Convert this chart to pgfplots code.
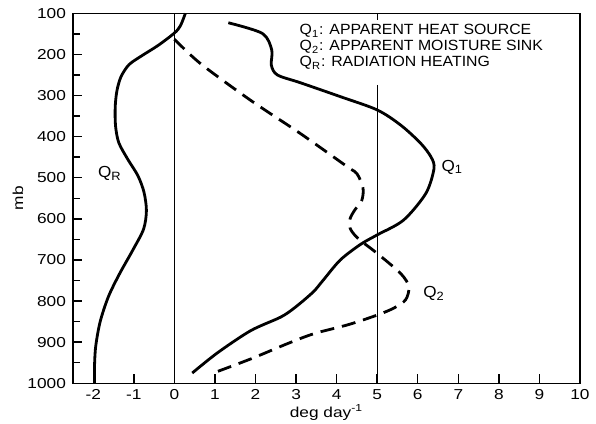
\documentclass[border=0pt]{standalone}
\usepackage{fontspec}
\setmainfont[FakeStretch=1.07]{Liberation Sans}
\newfontfamily\tickfont[FakeStretch=1.2]{Liberation Sans}
\usepackage{pgfplots}
\pgfplotsset{compat=1.18}
\begin{document}
\begin{tikzpicture}
\begin{axis}[
 at={(0,0)}, anchor=south west,
 scale only axis, width=253.5pt, height=185pt,
 xmin=-2.5, xmax=10, ymin=100, ymax=1000, y dir=reverse,
 xtick={-2,-1,0,1,2,3,4,5,6,7,8,9,10},
 ytick={100,200,300,400,500,600,700,800,900,1000},
 minor ytick={150,250,350,450,550,650,750,850,950},
 tick align=inside, xtick pos=bottom, ytick pos=left,
 major tick length=4.5pt, minor tick length=3.5pt,
 axis line style={line width=0.8pt},
 every tick/.style={black, line width=0.7pt},
 tick label style={font=\tickfont\fontsize{7.2}{8}\selectfont},
 xticklabel style={yshift=0.5pt},
 /pgf/number format/assume math mode=true,
 /pgf/number format/1000 sep={},
 xlabel={deg day\textsuperscript{-1}}, ylabel={mb},
 label style={font=\tickfont\fontsize{7.2}{8}\selectfont},
 xlabel style={at={(axis description cs:0.5,-0.056)}, anchor=north, inner sep=0pt},
 ylabel style={at={(axis description cs:-0.1085,0.5)}, anchor=center, inner sep=0pt},
 clip=false
]
\addplot[black, line width=0.5pt] coordinates {(0,100)(0,1000)};
\addplot[black, line width=0.5pt] coordinates {(5,100)(5,116)};
\addplot[black, line width=0.5pt] coordinates {(5,274)(5,1000)};
% Q1
\addplot[black, line width=1.4pt, smooth] coordinates {
(1.33,123)(2.17,149)(2.40,189)(2.39,226)(2.54,250)(3.11,269)(4.10,303)(5.0,335)
(5.58,372)(6.07,416)(6.33,450)(6.40,478)(6.2,538)(5.65,603)(5.0,639)(4.59,662)
(4.09,700)(3.67,749)(3.42,778)(2.98,815)(2.62,839)(1.88,872)(1.06,926)(0.44,975)};
% Q2
\addplot[black, line width=1.4pt, smooth, dash pattern=on 7pt off 4pt] coordinates {
(0,163)(0.64,222)(1.87,311)(3.10,392)(4.26,473)(4.50,490)(4.65,525)(4.62,555)
(4.45,578)(4.33,600)(4.33,622)(4.45,640)(4.63,656)(5.0,684)(5.58,733)(5.78,765)(5.70,797)(5.41,817)
(5.0,834)(4.3,857)(3.45,879)(2.8,903)(1.9,940)(0.96,975)};
% QR
\addplot[black, line width=1.4pt, smooth] coordinates {
(0.27,100)(0.15,130)(0,148)(-0.40,178)(-0.80,203)(-1.12,225)(-1.32,255)(-1.42,290)
(-1.46,330)(-1.45,375)(-1.37,415)(-1.15,455)(-0.90,495)(-0.75,535)(-0.69,580)
(-0.76,625)(-1.02,675)(-1.36,735)(-1.63,790)(-1.83,850)(-1.94,910)(-1.97,960)(-1.97,1000)};
\node[font=\fontsize{8}{9}\selectfont] at (axis cs:-1.59,489) {Q\textsubscript{R}};
\node[font=\fontsize{8}{9}\selectfont] at (axis cs:6.85,474) {Q\textsubscript{1}};
\node[font=\fontsize{8}{9}\selectfont] at (axis cs:6.4,781) {Q\textsubscript{2}};
\node[anchor=north west, align=left, inner sep=0pt, font=\fontsize{7.4}{8}\selectfont]
 at (axis cs:3.08,126) {Q\textsubscript{1}: APPARENT HEAT SOURCE\\Q\textsubscript{2}: APPARENT MOISTURE SINK\\Q\textsubscript{R}: RADIATION HEATING};
\end{axis}
\pgfresetboundingbox
\path (-36.5pt,-20.35pt) rectangle (261.5pt,191.65pt);
\end{tikzpicture}
\end{document}
